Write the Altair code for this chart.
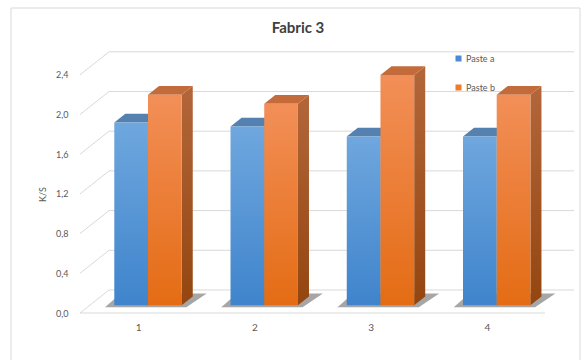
import json
import altair as alt
import pandas as pd

# --- chart values -----------------------------------------------------------
categories = ["1", "2", "3", "4"]
series = ["Paste a", "Paste b"]
paste_a = [1.84, 1.80, 1.70, 1.70]
paste_b = [2.12, 2.03, 2.32, 2.12]
y_ticks = [0.0, 0.4, 0.8, 1.2, 1.6, 2.0, 2.4]

# --- oblique projection of the depth axis (in data units) -------------------
DEPTH_X = 0.25    # category units covered by the full floor depth
DEPTH_Y = 0.232   # K/S units covered by the full floor depth
BAR_FRONT = 0.34  # depth at which the bar fronts stand
BAR_DEPTH = 0.38  # bar thickness along depth
BAR_W = 0.29      # bar width in category units
X_MAX = len(categories) + DEPTH_X
Y_MAX = 2.64

FONT = "Lato"
GRID = "#d9d9d9"
TEXT = "#595959"

x_scale = alt.Scale(domain=[0, X_MAX], nice=False, zero=False)
y_scale = alt.Scale(domain=[0, Y_MAX], nice=False, zero=False)


def vgrad(top, bottom):
    return alt.Gradient(
        gradient="linear",
        stops=[alt.GradientStop(color=top, offset=0),
               alt.GradientStop(color=bottom, offset=1)],
        x1=0, x2=0, y1=0, y2=1,
    )


style = {
    "Paste a": dict(front=vgrad("#6fa7de", "#3f84cc"),
                    side=vgrad("#4b7fb4", "#2f66a0"),
                    top="#5481b0", legend="#4a8bd3"),
    "Paste b": dict(front=vgrad("#f28f58", "#e46c14"),
                    side=vgrad("#b3663a", "#93460f"),
                    top="#c36b3b", legend="#ef7c2c"),
}

# --- build the faces of every 3D bar ----------------------------------------
base = BAR_FRONT * DEPTH_Y
ox = BAR_FRONT * DEPTH_X
ddx = BAR_DEPTH * DEPTH_X
ddy = BAR_DEPTH * DEPTH_Y

fronts, sides, tops, shadows = [], [], [], []
for i, cat in enumerate(categories):
    center = i + 0.5 + ox
    for j, (name, vals) in enumerate(zip(series, [paste_a, paste_b])):
        v = vals[i]
        xl = center + (j - 1) * BAR_W
        xr = xl + BAR_W
        bid = f"{cat}-{name}"
        fronts.append(dict(series=name, cat=cat, x=xl, x2=xr, y=base, y2=base + v))
        sides += [dict(id=bid, series=name, x=xr, y=base, y2=base + v),
                  dict(id=bid, series=name, x=xr + ddx, y=base + ddy, y2=base + ddy + v)]
        tops += [dict(id=bid, series=name, y=base + v, x=xl, x2=xr),
                 dict(id=bid, series=name, y=base + v + ddy, x=xl + ddx, x2=xr + ddx)]
    gl = center - BAR_W
    gr = center + BAR_W
    shadows += [dict(id=cat, y=base - 0.02, x=gl - 0.08, x2=gr + 0.04),
                dict(id=cat, y=base + ddy + 0.03, x=gl + ddx - 0.04, x2=gr + ddx + 0.12)]

fronts = pd.DataFrame(fronts)
sides = pd.DataFrame(sides)
tops = pd.DataFrame(tops)
shadows = pd.DataFrame(shadows)

# --- walls and floor ----------------------------------------------------------
grid_rows = []
for v in y_ticks:
    grid_rows.append(dict(x=0, x2=DEPTH_X, y=v, y2=v + DEPTH_Y))              # side wall
    grid_rows.append(dict(x=DEPTH_X, x2=X_MAX, y=v + DEPTH_Y, y2=v + DEPTH_Y))  # back wall
grid_rows.append(dict(x=0, x2=len(categories), y=0, y2=0))                     # floor front edge
grid = pd.DataFrame(grid_rows)

y_label_expr = "replace(format(datum.value, '.1f'), '.', ',')"
x_label_expr = f"{json.dumps(categories)}[floor(datum.value)]"
x_centers = [i + 0.5 for i in range(len(categories))]

X_AXIS = alt.Axis(values=x_centers, labelExpr=x_label_expr, title=None,
                  domain=False, ticks=False, grid=False, labelPadding=9,
                  labelFont=FONT, labelFontSize=10, labelColor=TEXT)
Y_AXIS = alt.Axis(values=y_ticks, labelExpr=y_label_expr, title="K/S",
                  domain=False, ticks=False, grid=False, labelPadding=12,
                  labelFont=FONT, labelFontSize=9, labelColor=TEXT,
                  titleFont=FONT, titleFontSize=9, titleFontWeight="normal",
                  titleColor=TEXT, titleY=143, titlePadding=8)


def X(field):
    return alt.X(field, scale=x_scale, axis=X_AXIS)


def Y(field):
    return alt.Y(field, scale=y_scale, axis=Y_AXIS)


walls = alt.Chart(grid).mark_rule(color=GRID, strokeWidth=1).encode(
    x=X("x:Q"), x2="x2:Q", y=Y("y:Q"), y2="y2:Q",
)

shadow_layer = alt.Chart(shadows).mark_area(
    orient="horizontal", fill="#3a3a3a", opacity=0.45
).encode(
    y=Y("y:Q"), x=X("x:Q"), x2="x2:Q", detail="id:N",
)

layers = [walls, shadow_layer]
for name in series:
    s = sides[sides.series == name]
    layers.append(alt.Chart(s).mark_area(orient="vertical", fill=style[name]["side"]).encode(
        x=X("x:Q"), y=Y("y:Q"), y2="y2:Q", detail="id:N",
    ))
for name in series:
    t = tops[tops.series == name]
    layers.append(alt.Chart(t).mark_area(orient="horizontal", fill=style[name]["top"]).encode(
        y=Y("y:Q"), x=X("x:Q"), x2="x2:Q", detail="id:N",
    ))
for name in series:
    f = fronts[fronts.series == name]
    layers.append(alt.Chart(f).mark_rect(fill=style[name]["front"]).encode(
        x=X("x:Q"), x2="x2:Q", y=Y("y:Q"), y2="y2:Q",
    ))

# legend carried by an invisible layer
legend_layer = alt.Chart(pd.DataFrame({"series": series})).mark_square(opacity=0).encode(
    color=alt.Color(
        "series:N",
        scale=alt.Scale(domain=series, range=[style[s]["legend"] for s in series]),
        legend=alt.Legend(title=None, orient="none", legendX=374, legendY=3,
                          symbolType="square", symbolSize=36, symbolOpacity=1,
                          symbolStrokeWidth=0, labelFont=FONT, labelFontSize=9,
                          labelColor=TEXT, rowPadding=19, labelOffset=3),
    ),
)
layers.append(legend_layer)

# outer frame of the chart
frame = alt.Chart(pd.DataFrame({"k": [0]})).mark_rect(
    fill=None, stroke=GRID, strokeWidth=1
).encode(
    x=alt.value(-69), x2=alt.value(500), y=alt.value(-43), y2=alt.value(400)
)

chart = alt.layer(frame, *layers).properties(
    width=494,
    height=262,
    title=alt.TitleParams("Fabric 3", font=FONT, fontSize=15, fontWeight="bold",
                          color="#404040", anchor="middle", dx=-29, dy=42, offset=14),
    autosize=alt.AutoSizeParams(type="none"),
    padding={"left": 80, "top": 51, "right": 9, "bottom": 47},
    background="white",
).configure_view(stroke=None)

chart.save("out.html", embed_options={"renderer": "svg", "actions": False})
